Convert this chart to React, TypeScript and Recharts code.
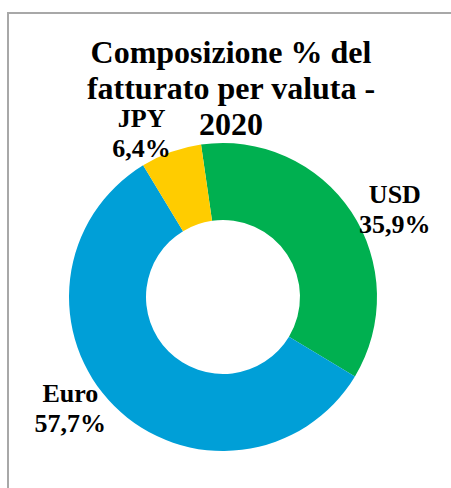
import { PieChart, Pie, Cell } from "recharts";

// valute in ordine orario partendo dall'alto
const currencies = ["USD", "Euro", "JPY"];
const shares = [35.9, 57.7, 6.4];
const colors = ["#00B050", "#009FD7", "#FFCC00"];

const titleLines = ["Composizione % del", "fatturato per valuta -", "2020"];

// spostamento etichette rispetto al centro della fetta
const LABEL_NUDGE: Record<string, { angle: number; gap: number }> = {
  USD: { angle: -9, gap: 35 },
  Euro: { angle: -7, gap: 40 },
  JPY: { angle: 8, gap: 21 },
};

const RADIAN = Math.PI / 180;
const FONT = "Liberation Serif, Tinos, DejaVu Serif, serif";

const data = currencies.map((name, i) => ({ name, value: shares[i] }));

const formatPct = (v: number) => `${v.toFixed(1).replace(".", ",")}%`;

function renderLabel(props: any) {
  const { cx, cy, midAngle, outerRadius, index } = props;
  const entry = data[index];
  const nudge = LABEL_NUDGE[entry.name] || { angle: 0, gap: 30 };
  const a = (midAngle + nudge.angle) * RADIAN;
  const r = outerRadius + nudge.gap;
  const x = cx + r * Math.cos(-a);
  const y = cy + r * Math.sin(-a);
  return (
    <text
      x={x}
      y={y}
      textAnchor="middle"
      style={{ fontFamily: FONT, fontWeight: 700, fontSize: 26 }}
      fill="#000"
    >
      <tspan x={x} y={y - 15}>
        {entry.name}
      </tspan>
      <tspan x={x} y={y + 15}>
        {formatPct(entry.value)}
      </tspan>
    </text>
  );
}

export default function App() {
  return (
    <div style={{ position: "absolute", left: 0, top: 0, width: 451, height: 488, overflow: "hidden", background: "#fff" }}>
      <div
        style={{
          position: "absolute",
          left: 7,
          top: 12,
          width: 470,
          height: 500,
          borderTop: "2px solid #a8a8a8",
          borderLeft: "2px solid #a8a8a8",
        }}
      />
      <div
        style={{
          position: "absolute",
          left: 31,
          top: 34,
          width: 400,
          textAlign: "center",
          fontFamily: FONT,
          fontWeight: 700,
          fontSize: 32,
          lineHeight: "36px",
          color: "#000",
          whiteSpace: "nowrap",
        }}
      >
        {titleLines.map((l) => (
          <div key={l}>{l}</div>
        ))}
      </div>
      <div style={{ position: "absolute", left: 0, top: 0 }}>
        <PieChart width={451} height={488} margin={{ top: 0, right: 0, bottom: 0, left: 0 }}>
          <Pie
            data={data}
            dataKey="value"
            nameKey="name"
            cx={223}
            cy={297}
            innerRadius={77}
            outerRadius={154}
            startAngle={98.2}
            endAngle={-261.8}
            stroke="none"
            label={renderLabel}
            labelLine={false}
            isAnimationActive={false}
          >
            {data.map((d, i) => (
              <Cell key={d.name} fill={colors[i]} />
            ))}
          </Pie>
        </PieChart>
      </div>
    </div>
  );
}
